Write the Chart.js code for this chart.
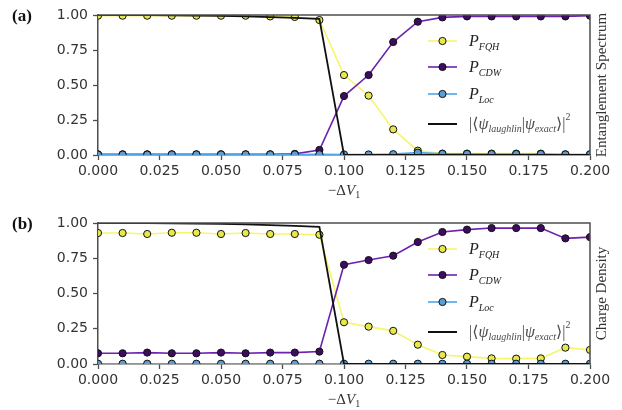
<!DOCTYPE html>
<html>
<head>
<meta charset="utf-8">
<script src="https://cdn.jsdelivr.net/npm/chart.js@4.4.1/dist/chart.umd.min.js"></script>
<style>
  html, body { margin: 0; padding: 0; background: #fff; }
  #wrap { position: relative; width: 622px; height: 410px; }
  .panel { position: absolute; left: 0; width: 622px; height: 205px; }
</style>
</head>
<body>
<div id="wrap">
  <div class="panel" style="top:0"><canvas id="chartA" width="622" height="205"></canvas></div>
  <div class="panel" style="top:205px"><canvas id="chartB" width="622" height="205"></canvas></div>
</div>
<script>
// -ΔV1 sweep
const dV = [0.00, 0.01, 0.02, 0.03, 0.04, 0.05, 0.06, 0.07, 0.08, 0.09, 0.10,
            0.11, 0.12, 0.13, 0.14, 0.15, 0.16, 0.17, 0.18, 0.19, 0.20];

// Overlap of the Laughlin state with the exact ground state (same for both panels)
const overlap = [1.000, 1.000, 0.999, 0.998, 0.996, 0.994, 0.990, 0.985, 0.980, 0.972, 0.000,
                 0.000, 0.000, 0.000, 0.000, 0.000, 0.000, 0.000, 0.000, 0.000, 0.000];

// (a) classification from the entanglement spectrum
const esFQH = [0.995, 0.995, 0.995, 0.995, 0.995, 0.995, 0.995, 0.990, 0.986, 0.964, 0.571,
               0.424, 0.183, 0.031, 0.010, 0.010, 0.010, 0.010, 0.010, 0.005, 0.005];
const esCDW = [0.005, 0.005, 0.005, 0.005, 0.005, 0.005, 0.005, 0.005, 0.008, 0.036, 0.421,
               0.571, 0.807, 0.952, 0.983, 0.990, 0.990, 0.990, 0.990, 0.990, 0.995];
const esLoc = [0.003, 0.003, 0.003, 0.004, 0.004, 0.004, 0.004, 0.004, 0.004, 0.005, 0.004,
               0.004, 0.006, 0.017, 0.008, 0.008, 0.007, 0.007, 0.007, 0.004, 0.004];

// (b) classification from the charge density
const cdFQH = [0.929, 0.929, 0.922, 0.931, 0.931, 0.922, 0.929, 0.922, 0.922, 0.917, 0.296,
               0.265, 0.235, 0.137, 0.064, 0.052, 0.040, 0.038, 0.040, 0.116, 0.100];
const cdCDW = [0.076, 0.076, 0.081, 0.076, 0.076, 0.081, 0.076, 0.081, 0.081, 0.088, 0.704,
               0.737, 0.768, 0.865, 0.936, 0.953, 0.964, 0.964, 0.964, 0.891, 0.900];
const cdLoc = [0.002, 0.002, 0.002, 0.002, 0.002, 0.002, 0.002, 0.002, 0.002, 0.002, 0.002,
               0.002, 0.002, 0.002, 0.002, 0.002, 0.002, 0.002, 0.002, 0.002, 0.002];

const xTicks = [0, 0.025, 0.05, 0.075, 0.1, 0.125, 0.15, 0.175, 0.2];
const yTicks = [0, 0.25, 0.5, 0.75, 1.0];

const SPINE = '#4d4d4d';
const SERIF = '"Liberation Serif", "DejaVu Serif", serif';
const SANS = '"DejaVu Sans", sans-serif';

const STYLE = {
  fqh: { line: '#f6f66c', fill: '#e8e84c' },
  cdw: { line: '#6d22ad', fill: '#3e0a62' },
  loc: { line: '#4aa6ee', fill: '#5b9ed6' }
};

function pts(ys) { return dV.map((x, i) => ({ x: x, y: ys[i] })); }

// draw a run of text pieces with individual fonts and vertical shifts
function drawRich(ctx, x, y, parts) {
  ctx.textBaseline = 'alphabetic';
  ctx.textAlign = 'left';
  let cx = x;
  for (const p of parts) {
    ctx.font = p.font;
    ctx.fillStyle = p.color || '#222';
    ctx.fillText(p.t, cx, y + (p.dy || 0));
    cx += ctx.measureText(p.t).width + (p.gap || 0);
  }
  return cx;
}

const decor = {
  id: 'decor',
  afterDatasetsDraw(chart, args, opts) {
    const ctx = chart.ctx;
    const a = chart.chartArea;
    ctx.save();
    // top and right spines
    ctx.strokeStyle = SPINE;
    ctx.lineWidth = 1.5;
    ctx.beginPath();
    ctx.moveTo(a.left, a.top);
    ctx.lineTo(a.right, a.top);
    ctx.lineTo(a.right, a.bottom);
    ctx.stroke();

    // legend
    const lx0 = 428, lx1 = 457, tx = 469;
    const rows = [
      { off: 26, s: STYLE.fqh, sub: 'FQH' },
      { off: 52, s: STYLE.cdw, sub: 'CDW' },
      { off: 79, s: STYLE.loc, sub: 'Loc' }
    ];
    for (const r of rows) {
      const y = a.top + r.off;
      ctx.strokeStyle = r.s.line;
      ctx.lineWidth = 1.6;
      ctx.beginPath(); ctx.moveTo(lx0, y); ctx.lineTo(lx1, y); ctx.stroke();
      ctx.beginPath(); ctx.arc((lx0 + lx1) / 2, y, 3.6, 0, Math.PI * 2);
      ctx.fillStyle = r.s.fill; ctx.fill();
      ctx.strokeStyle = '#111'; ctx.lineWidth = 1; ctx.stroke();
      drawRich(ctx, tx, y + 5, [
        { t: 'P', font: 'italic 16px ' + SERIF, color: '#222', gap: 0 },
        { t: r.sub, font: 'italic 10px ' + SERIF, dy: 4, color: '#222' }
      ]);
    }
    const yl = a.top + 109;
    ctx.strokeStyle = '#111';
    ctx.lineWidth = 2;
    ctx.beginPath(); ctx.moveTo(lx0, yl); ctx.lineTo(lx1, yl); ctx.stroke();
    const gcol = '#4a4a4a';
    drawRich(ctx, tx, yl + 5, [
      { t: '|\u27E8', font: '16px ' + SERIF, color: gcol },
      { t: '\u03C8', font: 'italic 16px ' + SERIF, color: gcol },
      { t: 'laughlin', font: 'italic 10px ' + SERIF, dy: 3, color: gcol },
      { t: '|', font: '16px ' + SERIF, color: gcol },
      { t: '\u03C8', font: 'italic 16px ' + SERIF, color: gcol },
      { t: 'exact', font: 'italic 10px ' + SERIF, dy: 3, color: gcol },
      { t: '\u27E9|', font: '16px ' + SERIF, color: gcol },
      { t: '2', font: '10px ' + SERIF, dy: -9, color: gcol }
    ]);

    // right-hand axis label
    ctx.save();
    ctx.translate(602, (a.top + a.bottom) / 2);
    ctx.rotate(-Math.PI / 2);
    ctx.font = '15px ' + SERIF;
    ctx.fillStyle = '#333';
    ctx.textAlign = 'center';
    ctx.textBaseline = 'middle';
    ctx.fillText(opts.rightLabel, 0, 0);
    ctx.restore();

    // panel tag
    ctx.font = 'bold 17px ' + SERIF;
    ctx.fillStyle = '#111';
    ctx.textAlign = 'left';
    ctx.textBaseline = 'alphabetic';
    ctx.fillText(opts.tag, 12, a.top + 6);

    // x-axis title: −ΔV1
    const xs = chart.scales.x;
    const cxm = (xs.left + xs.right) / 2;
    ctx.font = '15px ' + SERIF;
    const w1 = ctx.measureText('\u2212\u0394').width;
    ctx.font = 'italic 15px ' + SERIF;
    const w2 = ctx.measureText('V').width;
    ctx.font = '10px ' + SERIF;
    const w3 = ctx.measureText('1').width;
    const start = cxm - (w1 + w2 + w3) / 2;
    drawRich(ctx, start, a.bottom + 40, [
      { t: '\u2212\u0394', font: '15px ' + SERIF, color: '#333' },
      { t: 'V', font: 'italic 15px ' + SERIF, color: '#333' },
      { t: '1', font: '10px ' + SERIF, dy: 3, color: '#333' }
    ]);
    ctx.restore();
  }
};

function makeChart(id, fqh, cdw, loc, tag, rightLabel, padTop, xHeight) {
  const marker = (s) => ({
    borderColor: s.line,
    backgroundColor: s.line,
    pointBackgroundColor: s.fill,
    pointBorderColor: '#111',
    pointBorderWidth: 1,
    pointRadius: 3.6,
    pointHoverRadius: 3.6,
    borderWidth: 1.6,
    tension: 0,
    clip: 0
  });
  return new Chart(document.getElementById(id), {
    type: 'line',
    data: {
      datasets: [
        Object.assign({ label: 'P_FQH', data: pts(fqh), order: 3 }, marker(STYLE.fqh)),
        Object.assign({ label: 'P_CDW', data: pts(cdw), order: 2 }, marker(STYLE.cdw)),
        Object.assign({ label: 'P_Loc', data: pts(loc), order: 1 }, marker(STYLE.loc)),
        { label: 'overlap', data: pts(overlap), order: 0, borderColor: '#111',
          borderWidth: 1.8, pointRadius: 0, tension: 0, clip: 0 }
      ]
    },
    options: {
      responsive: false,
      animation: false,
      devicePixelRatio: 1,
      layout: { padding: { top: padTop, right: 32, left: 0, bottom: 0 } },
      plugins: {
        legend: { display: false },
        tooltip: { enabled: false },
        decor: { tag: tag, rightLabel: rightLabel }
      },
      scales: {
        x: {
          type: 'linear', min: 0, max: 0.2,
          afterFit(s) { s.height = xHeight; },
          afterBuildTicks(s) { s.ticks = xTicks.map(v => ({ value: v })); },
          ticks: { callback: v => v.toFixed(3), color: '#333', font: { family: SANS, size: 14 }, padding: 3, maxRotation: 0, autoSkip: false },
          grid: { drawOnChartArea: false, drawTicks: true, tickLength: 5, color: SPINE, tickWidth: 1.3 },
          border: { display: true, color: SPINE, width: 1.5 }
        },
        y: {
          min: 0, max: 1,
          afterFit(s) { s.width = 98; },
          afterBuildTicks(s) { s.ticks = yTicks.map(v => ({ value: v })); },
          ticks: { callback: v => v.toFixed(2), color: '#333', font: { family: SANS, size: 14 }, padding: 5 },
          grid: { drawOnChartArea: false, drawTicks: true, tickLength: 5, color: SPINE, tickWidth: 1.3 },
          border: { display: true, color: SPINE, width: 1.5 }
        }
      }
    },
    plugins: [decor]
  });
}

makeChart('chartA', esFQH, esCDW, esLoc, '(a)', 'Entanglement Spectrum', 15, 50);
makeChart('chartB', cdFQH, cdCDW, cdLoc, '(b)', 'Charge Density', 18, 46);
</script>
</body>
</html>
